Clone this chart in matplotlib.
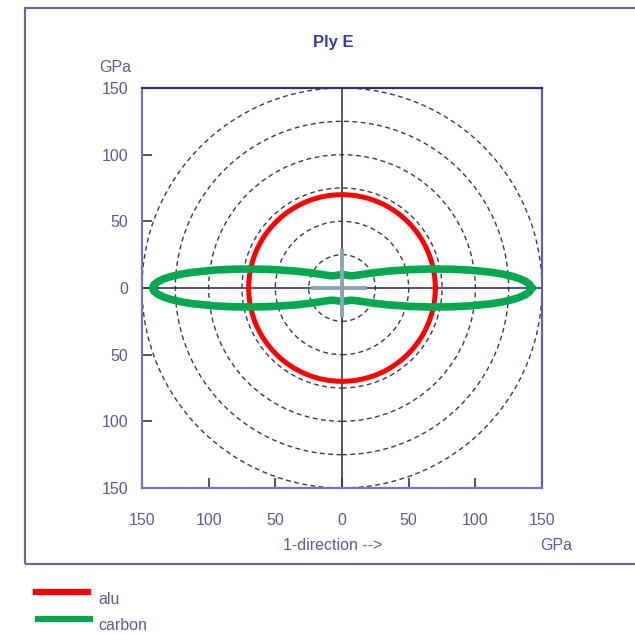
import numpy as np
import matplotlib
matplotlib.use("Agg")
import matplotlib.pyplot as plt
from matplotlib.patches import Rectangle, Circle
from matplotlib.lines import Line2D

plt.rcParams['font.family'] = ['Liberation Sans', 'DejaVu Sans']

# data
ticks = [-150, -100, -50, 0, 50, 100, 150]
tick_labels = ['150', '100', '50', '0', '50', '100', '150']
grid_radii = [25, 50, 75, 100, 125, 150]

alu_E = 70  # GPa, isotropic

# carbon ply modulus vs angle from 1-direction (first quadrant, GPa)
carbon_angle = [0, 1, 2, 3, 4, 5, 6, 8, 10, 12, 15, 20, 25, 30, 40, 45, 50, 60, 70, 80, 90]
carbon_E = [142, 141, 138, 133.5, 127.5, 120.5, 112.7, 96.5, 81.5, 68.5, 53.5,
            37.1, 27.3, 21.3, 14.9, 13.2, 12.0, 10.7, 10.2, 10.0, 10.0]

# small light cross near the origin
cross_h = [-23, 19]
cross_v = [-22, 29]

txt = '#5c5c9c'
fs = 11.5
W, H = 635, 634
fig = plt.figure(figsize=(W / 100, H / 100), dpi=100)

def fx(px):
    return px / W

def fy(py):
    return 1 - py / H

# outer frame
fig.patches.append(Rectangle((fx(25), fy(564)), 1.0, fy(8) - fy(564), transform=fig.transFigure,
                             fill=False, edgecolor='#6a6a98', lw=1.6))

ax = fig.add_axes([fx(142), fy(488), 400 / W, 400 / H])
ax.set_xlim(-150, 150)
ax.set_ylim(-150, 150)

# dashed circles
for r in grid_radii:
    ax.add_patch(Circle((0, 0), r, fill=False, ls=(0, (3.5, 2.5)), lw=1.0,
                        edgecolor='#3a3a5c', zorder=1))

# axis cross
ax.axhline(0, color='#303078', lw=1.2, zorder=2)
ax.axvline(0, color='#303078', lw=1.2, zorder=2)

# alu
th = np.radians(np.arange(0, 361, 2))
ax.plot(alu_E * np.cos(th), alu_E * np.sin(th), color='#ff0000', lw=3.6, zorder=3)

# carbon, mirrored into all four quadrants
a = np.array(carbon_angle, dtype=float)
e = np.array(carbon_E)
full_a = np.concatenate([a, 180 - a[::-1], 180 + a, 360 - a[::-1]])
full_e = np.concatenate([e, e[::-1], e, e[::-1]])
ra = np.radians(full_a)
ax.plot(full_e * np.cos(ra), full_e * np.sin(ra), color='#00a850', lw=5.5, zorder=4)

# light cross
ax.plot(cross_h, [0, 0], color='#8ea2b6', lw=2.8, zorder=5, solid_capstyle='butt')
ax.plot([0, 0], cross_v, color='#8ea2b6', lw=2.8, zorder=5, solid_capstyle='butt')

ax.set_xticks(ticks, tick_labels)
ax.set_yticks(ticks, tick_labels)
ax.tick_params(direction='in', length=7, width=1.3, color='#404080',
               labelcolor=txt, labelsize=fs)
ax.tick_params(axis='x', pad=18)
ax.tick_params(axis='y', pad=10)
ax.spines['left'].set_color('#7474c0')
ax.spines['bottom'].set_color('#7474c0')
ax.spines['top'].set_color('#303070')
ax.spines['right'].set_color('#6060a8')
for s in ax.spines.values():
    s.set_linewidth(1.6)

fig.text(fx(333), fy(42), 'Ply E', color='#3a3aa8', fontsize=12, fontweight='bold',
         ha='center', va='center')
fig.text(fx(115), fy(68), 'GPa', color=txt, fontsize=fs, ha='center', va='center')
fig.text(fx(333), fy(546), '1-direction -->', color=txt, fontsize=fs, ha='center', va='center')
fig.text(fx(556), fy(546), 'GPa', color=txt, fontsize=fs, ha='center', va='center')

# legend
fig.add_artist(Line2D([fx(36), fx(88)], [fy(592), fy(592)], color='#ff0000', lw=4.5,
                      transform=fig.transFigure))
fig.text(fx(98), fy(599), 'alu', color=txt, fontsize=fs, ha='left', va='center')
fig.add_artist(Line2D([fx(38), fx(90)], [fy(619), fy(619)], color='#00a850', lw=4.5,
                      transform=fig.transFigure))
fig.text(fx(98), fy(626), 'carbon', color=txt, fontsize=fs, ha='left', va='center')

fig.savefig('out.png', dpi=100, facecolor='white')
